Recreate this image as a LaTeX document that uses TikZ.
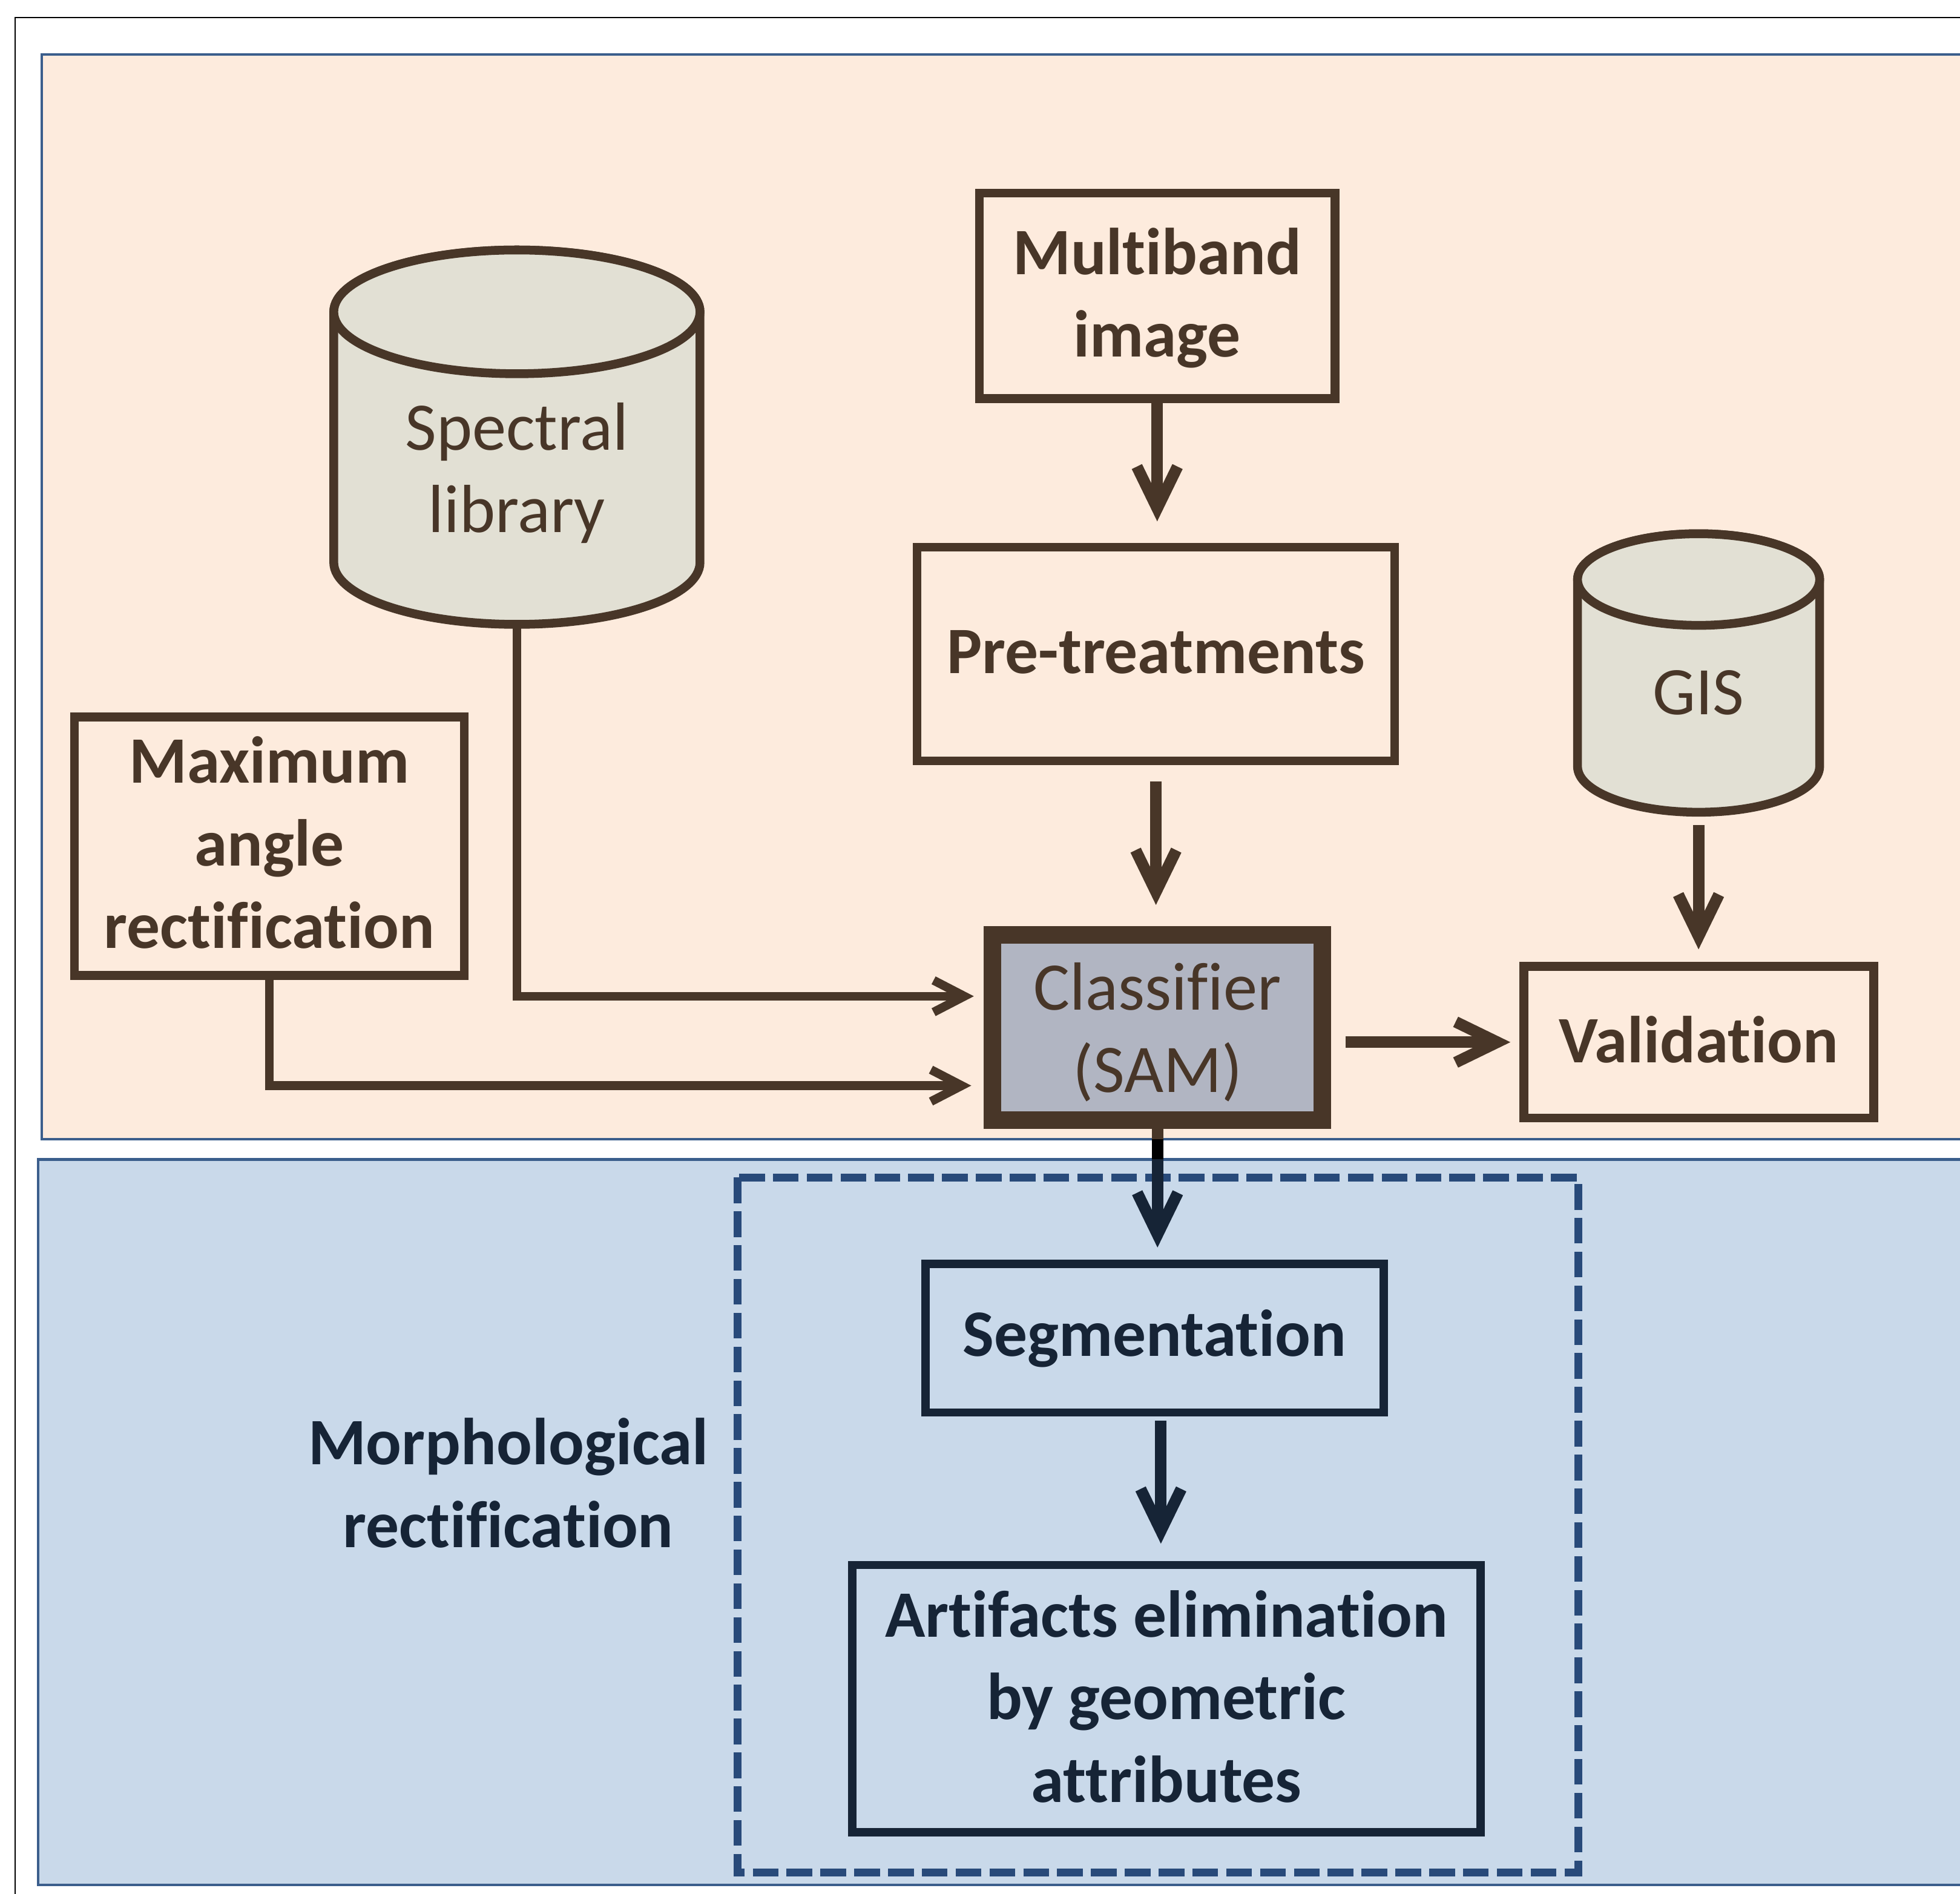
\documentclass[tikz,border=0pt]{standalone}
\usepackage{fontspec}
\setmainfont{Carlito}[Ligatures={NoCommon,NoContextual}]
\usetikzlibrary{arrows.meta,calc}

\definecolor{brn}{HTML}{483628}
\definecolor{peach}{HTML}{FDEBDD}
\definecolor{cylf}{HTML}{E2E0D4}
\definecolor{clsf}{HTML}{B1B5C2}
\definecolor{bband}{HTML}{C9D9EA}
\definecolor{bborder}{HTML}{3B5E8C}
\definecolor{navy}{HTML}{162436}
\definecolor{dnavy}{HTML}{284A7A}

% centred lines; optional argument lowers the text inside a centred node
\newcommand{\tl}[2][0pt]{\begin{tabular}{@{}c@{}}\rule{0pt}{\dimexpr 26.32pt+2\dimexpr#1\relax\relax}#2\end{tabular}}
% cylinder: cx, rx, top-ellipse cy, bottom-ellipse cy, ry
\newcommand{\drawcyl}[5]{%
  \draw[cylstyle] ({#1-#2},#3) -- ({#1-#2},#4)
    .. controls ({#1-#2},{#4+0.5523*#5}) and ({#1-0.5523*#2},{#4+#5}) .. (#1,{#4+#5})
    .. controls ({#1+0.5523*#2},{#4+#5}) and ({#1+#2},{#4+0.5523*#5}) .. ({#1+#2},#4)
    -- ({#1+#2},#3)
    .. controls ({#1+#2},{#3-0.5523*#5}) and ({#1+0.5523*#2},{#3-#5}) .. (#1,{#3-#5})
    .. controls ({#1-0.5523*#2},{#3-#5}) and ({#1-#2},{#3-0.5523*#5}) .. ({#1-#2},#3)
    -- cycle;
  \draw[cylstyle] (#1,#3) ellipse[x radius=#2,y radius=#5];
}

\begin{document}
\begin{tikzpicture}[x=0.02cm,y=-0.02cm,
  every node/.style={inner sep=0pt,outer sep=0pt},
  ft/.style={font=\fontsize{31}{37.6}\selectfont},
  ftb/.style={font=\fontsize{30.2}{37.6}\selectfont\bfseries},
  brbox/.style={draw=brn,line width=4pt,ftb,text=brn},
  nbox/.style={draw=navy,line width=3.8pt,ftb,text=navy},
  cbox/.style={draw=brn,line width=8pt,fill=clsf,ft,text=brn},
  cylstyle/.style={draw=brn,line width=4pt,fill=cylf},
  conn/.style={draw=brn,line width=4pt,-{Straight Barb[length=14pt,width=14.5pt]}},
  arrb/.style={draw=brn,line width=5.2pt,-{Straight Barb[length=19pt,width=18.5pt]}},
  arrn/.style={draw=navy,line width=5.2pt,-{Straight Barb[length=19pt,width=18.5pt]}},
]
\useasboundingbox (0,0) rectangle (1568,1514.8);
\clip (0,0) rectangle (1568,1514.8);
\fill[white] (0,0) rectangle (1568,1514.8);
% outer frame and bands
\draw[black,line width=0.6pt] (12,14) rectangle (1700,1700);
\draw[bborder,line width=1.2pt,fill=peach] (33.3,43.5) rectangle (1700,911.5);
\draw[bborder,line width=1.2pt,fill=bband] (30.5,927.5) rectangle (1700,1508);
\coordinate (pk) at (0,911.5);
\coordinate (bl) at (0,927.5);
% dashed frame
\draw[dnavy,line width=3.6pt,dash pattern=on 11.7pt off 3.7pt] (590,942) rectangle (1262.5,1498);

% cylinders
\node[minimum width=5.86cm,minimum height=5.99cm] (spec) at (413.5,349.75) {};
\drawcyl{413.5}{146.5}{249.5}{450}{49.5}
\node[ft,text=brn] (spectxt) at (413.5,379.8) {\tl{Spectral\\library}};

\node[minimum width=3.874cm,minimum height=4.456cm] (gis) at (1358.85,538.4) {};
\drawcyl{1358.85}{96.85}{463.65}{613.15}{36.65}
\node[ft,text=brn] (gistxt) at (1358.85,558.3) {\tl{GIS}};

% boxes
\node[brbox,minimum width=5.69cm,minimum height=3.29cm] (mb) at (925.75,236.75) {\tl[1.4pt]{Multiband\\image}};
\node[brbox,minimum width=7.642cm,minimum height=3.418cm] (pre) at (924.75,523.25) {\tl[1.4pt]{Pre-treatments}};
\node[brbox,minimum width=6.24cm,minimum height=4.14cm] (maxa) at (215.5,677) {\tl[1.4pt]{Maximum\\angle\\rectification}};
\node[cbox,minimum width=5.28cm,minimum height=2.96cm] (cls) at (926,822) {\tl[3.2pt]{Classifier\\(SAM)}};
\node[brbox,minimum width=5.6cm,minimum height=2.43cm] (val) at (1359,833.75) {\tl[1.8pt]{Validation}};
\node[nbox,minimum width=7.332cm,minimum height=2.38cm] (seg) at (923.7,1070.5) {\tl[0.8pt]{Segmentation}};
\node[nbox,minimum width=10.056cm,minimum height=4.28cm] (art) at (933.2,1359) {\tl[2pt]{Artifacts elimination\\by geometric\\attributes}};
\node[ftb,text=navy] (morph) at (406.6,1191.5) {\tl{Morphological\\rectification}};

% connectors
\draw[conn,shorten >=8.5pt] (spec.south) |- ($(cls.west)+(0,-25)$);
\draw[conn,shorten >=9.7pt] (maxa.south) |- ($(cls.west)+(0,46.5)$);
\draw[arrb,shorten >=11.8pt] (mb.south) -- (mb.south |- pre.north);
\draw[arrb,shorten <=9.3pt,shorten >=13.7pt] (pre.south) -- (pre.south |- cls.north);
\draw[arrb,shorten <=5.8pt,shorten >=7.7pt] (gis.south) -- (gis.south |- val.north);
\draw[arrb,shorten <=10.5pt,shorten >=6.1pt] (cls.east |- val.west) -- (val.west);
\draw[arrn,shorten >=7.4pt] (cls.south) -- (cls.south |- seg.north);
\draw[brn,line width=5.2pt] (cls.south) -- (cls.south |- pk);
\draw[black,line width=5.2pt] (cls.south |- pk) -- (cls.south |- bl);
\draw[arrn,shorten <=3.8pt,shorten >=9.7pt] ($(seg.south)+(5,0)$) -- ($(seg.south |- art.north)+(5,0)$);
\end{tikzpicture}
\end{document}
